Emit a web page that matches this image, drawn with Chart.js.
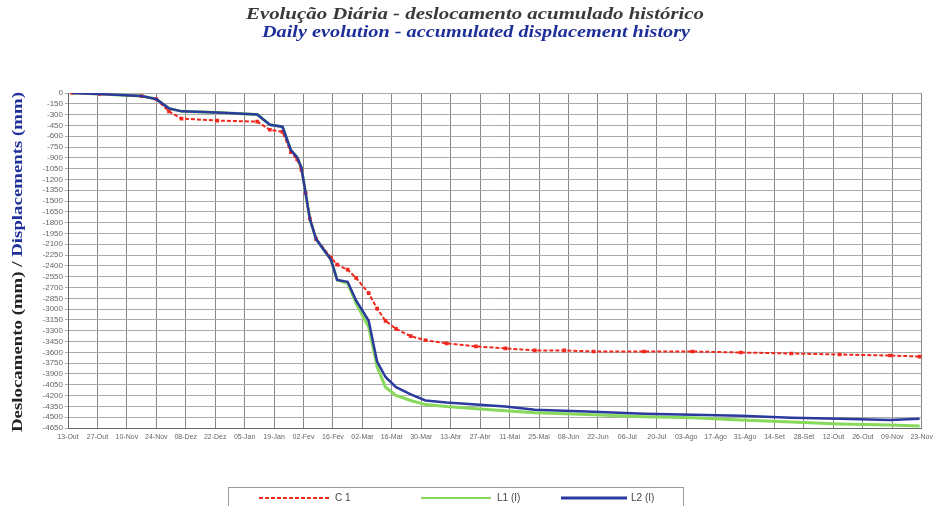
<!DOCTYPE html>
<html><head><meta charset="utf-8">
<script src="https://cdn.jsdelivr.net/npm/chart.js@4"></script>
<style>
html,body{margin:0;padding:0;background:#fff;}
#wrap{position:relative;width:938px;height:506px;overflow:hidden;}
#c{position:absolute;left:0;top:0;}
#legend{position:absolute;left:228px;top:487px;width:456px;height:22px;border:1px solid #9a9a9a;box-sizing:border-box;font:10px "Liberation Sans",Arial,sans-serif;color:#444;}
#legend .it{position:absolute;top:3px;height:14px;}
#legend svg{position:absolute;top:0;left:0;}
#legend span{position:absolute;top:1px;white-space:nowrap;}
</style></head>
<body><div id="wrap"><canvas id="c" width="938" height="506"></canvas>
<div id="legend">
 <div class="it" style="left:28px;width:120px"><svg width="74" height="14"><line x1="2" y1="7" x2="72" y2="7" stroke="#f0281e" stroke-width="2" stroke-dasharray="4,2"/></svg><span style="left:78px">C 1</span></div>
 <div class="it" style="left:190px;width:120px"><svg width="74" height="14"><line x1="2" y1="7" x2="72" y2="7" stroke="#86d95a" stroke-width="2"/></svg><span style="left:78px">L1 (I)</span></div>
 <div class="it" style="left:330px;width:120px"><svg width="70" height="14"><line x1="2" y1="7" x2="68" y2="7" stroke="#2b3a9e" stroke-width="3"/></svg><span style="left:72px">L2 (I)</span></div>
</div></div>
<script>
const titleLine1 = "Evolução Diária - deslocamento acumulado histórico";
const titleLine2 = "Daily evolution - accumulated displacement history";
const yTitlePt = "Deslocamento (mm) / ";
const yTitleEn = "Displacements (mm)";
const xTickLabels = ["13-Out","27-Out","10-Nov","24-Nov","08-Dez","22-Dez","05-Jan","19-Jan","02-Fev","16-Fev","02-Mar","16-Mar","30-Mar","13-Abr","27-Abr","11-Mai","25-Mai","08-Jun","22-Jun","06-Jul","20-Jul","03-Ago","17-Ago","31-Ago","14-Set","28-Set","12-Out","26-Out","09-Nov","23-Nov"];
const days = [2,15,35,42,48,54,71,90,96,102,106,109,111,113,115,118,125,128,133,137,143,147,151,156,163,170,180,194,208,222,236,250,274,297,320,344,367,391,405];
const c1 = [0,-14,-43,-85,-255,-355,-383,-397,-510,-539,-822,-922,-1064,-1390,-1744,-2028,-2283,-2382,-2453,-2567,-2779,-2992,-3162,-3275,-3375,-3432,-3474,-3517,-3545,-3573,-3573,-3588,-3588,-3588,-3602,-3616,-3630,-3644,-3658];
const l1 = [0,-14,-43,-85,-213,-255,-270,-298,-440,-468,-794,-893,-1035,-1390,-1744,-2028,-2311,-2595,-2640,-2920,-3250,-3800,-4084,-4197,-4268,-4325,-4353,-4382,-4410,-4438,-4453,-4467,-4495,-4509,-4538,-4566,-4594,-4608,-4623];
const l2 = [0,-14,-43,-85,-213,-255,-270,-298,-440,-468,-794,-893,-1035,-1390,-1744,-2028,-2311,-2595,-2620,-2879,-3162,-3729,-3942,-4084,-4183,-4268,-4297,-4325,-4353,-4396,-4410,-4424,-4453,-4467,-4481,-4509,-4523,-4538,-4523];
const yMin = -4650, yMax = 0, yStep = 150, xStep = 14;

const pts = arr => arr.map((v,i)=>({x:days[i], y:v}));

function fitText(ctx, txt, cx, cy, target){
  const w = ctx.measureText(txt).width;
  ctx.save();
  ctx.translate(cx, cy);
  ctx.scale(target/w, 1);
  ctx.fillText(txt, 0, 0);
  ctx.restore();
}

const titles = {
  id:'titles',
  afterDraw(chart){
    const ctx = chart.ctx;
    ctx.save();
    ctx.textAlign='center'; ctx.textBaseline='middle';
    ctx.font='italic bold 17px "Liberation Serif", serif';
    ctx.fillStyle='#3a3a3a';
    fitText(ctx, titleLine1, 475, 15, 458);
    ctx.fillStyle='#1f2f9a';
    fitText(ctx, titleLine2, 476, 33, 428);
    // y title
    ctx.translate(18, 262);
    ctx.rotate(-Math.PI/2);
    ctx.font='bold 15px "Liberation Serif", serif';
    const w1 = ctx.measureText(yTitlePt).width, w2 = ctx.measureText(yTitleEn).width;
    const k = 340/(w1+w2);
    ctx.scale(k,1);
    let x0 = -(w1+w2)/2;
    ctx.textAlign='left';
    ctx.fillStyle='#222';
    ctx.fillText(yTitlePt, x0, 0);
    ctx.fillStyle='#1f2f9a';
    ctx.fillText(yTitleEn, x0+w1, 0);
    ctx.restore();
  }
};

new Chart(document.getElementById('c'), {
  type:'line',
  data:{datasets:[
    {label:'L2 (I)', data:pts(l2), borderColor:'#2b3a9e', borderWidth:2.5, pointRadius:0, tension:0},
    {label:'C 1', data:pts(c1), borderColor:'#f0281e', backgroundColor:'#f0281e', borderWidth:2, borderDash:[4,2], pointRadius:1.2, pointStyle:'rect', tension:0},
    {label:'L1 (I)', data:pts(l1), borderColor:'#86d95a', borderWidth:3, pointRadius:0, tension:0}
  ]},
  options:{
    responsive:false, animation:false,
    layout:{padding:{left:28, top:93, right:6, bottom:58}},
    plugins:{legend:{display:false}, tooltip:{enabled:false}},
    scales:{
      x:{type:'linear', min:0, max:406,
        afterFit(s){s.height=20;},
        border:{color:'#666'},
        grid:{color:'#888', lineWidth:1, drawTicks:false},
        ticks:{stepSize:xStep, autoSkip:false, maxRotation:0, padding:5, color:'#666', font:{size:7, family:'"Liberation Sans", Arial'},
          callback:v=>xTickLabels[Math.round(v/xStep)]}},
      y:{min:yMin, max:yMax,
        afterFit(s){s.width=40;},
        border:{color:'#666'},
        grid:{color:'#aaa', lineWidth:1, tickLength:3},
        ticks:{stepSize:yStep, autoSkip:false, padding:2, color:'#666', font:{size:8, family:'"Liberation Sans", Arial'},
          callback:v=>String(v)}}
    }
  },
  plugins:[titles]
});
</script></body></html>
